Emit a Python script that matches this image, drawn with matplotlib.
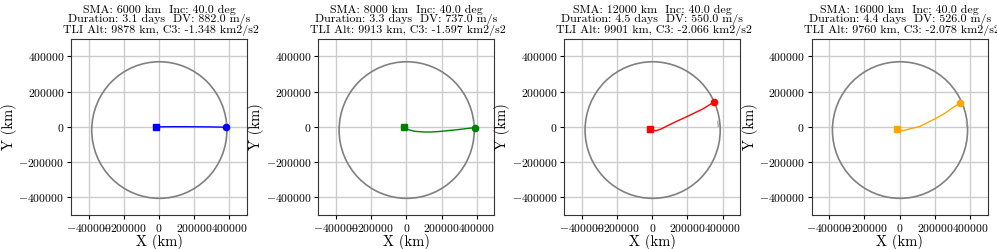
import matplotlib
matplotlib.use('Agg')
import matplotlib.pyplot as plt
from matplotlib.patches import Ellipse

plt.rcParams['font.family'] = 'serif'
plt.rcParams['font.serif'] = ['cmr10']
plt.rcParams['mathtext.fontset'] = 'cm'
plt.rcParams['axes.formatter.use_mathtext'] = True
plt.rcParams['axes.unicode_minus'] = True

# Case parameters (per panel)
sma = [6000, 8000, 12000, 16000]
inc = [40.0, 40.0, 40.0, 40.0]
duration = [3.1, 3.3, 4.5, 4.4]
dv = [882.0, 737.0, 550.0, 526.0]
tli_alt = [9878, 9913, 9901, 9760]
c3 = [-1.348, -1.597, -2.066, -2.078]
colors = ['blue', 'green', 'red', 'orange']

# Transfer trajectories, km
traj_x = [
    [-19000, 20000, 80000, 150000, 220000, 290000, 340000, 383000],
    [-13000, 10000, 46000, 100000, 141000, 190000, 237000, 290000, 331000, 389000],
    [-11000, 0, 20000, 50000, 99000, 150000, 194000, 250000, 289000, 350000],
    [-15000, 0, 21000, 55000, 116000, 165000, 211000, 255000, 287000, 345000],
]
traj_y = [
    [0, 500, 1000, 1000, 500, 0, -1000, -2000],
    [-2000, -15000, -25000, -29000, -29000, -26000, -21000, -16000, -11000, -4000],
    [-10000, -19000, -22000, -12000, 13000, 37000, 57000, 84000, 103000, 141000],
    [-10000, -19000, -21000, -12000, 3000, 28000, 51000, 76000, 99000, 137000],
]

# Moon orbit (ellipse fit) and the short moon-arrival tick
moon_cx, moon_cy = 2000, -18000
moon_w, moon_h = 768000, 776000
tick_x = [[384000, 386000], [384000, 386000], [372000, 375000], [379000, 381000]]
tick_y = [[25000, -5000], [25000, -5000], [32000, 3000], [32000, 3000]]

fig = plt.figure(figsize=(9.97, 2.49), dpi=100)
lefts = [0.0712, 0.3193, 0.566, 0.8141]

for i in range(4):
    ax = fig.add_axes([lefts[i], 0.137, 0.1765, 0.7068])
    ax.set_axisbelow(True)
    ax.grid(True, color='#cccccc', lw=1)
    ax.add_patch(Ellipse((moon_cx, moon_cy), moon_w, moon_h, fill=False,
                         edgecolor='gray', lw=1.2))
    ax.plot(tick_x[i], tick_y[i], color='#aaaaaa', lw=1)
    ax.plot(traj_x[i], traj_y[i], color=colors[i], lw=1)
    ax.plot(traj_x[i][0], traj_y[i][0], 's', color=colors[i], ms=4.5)
    ax.plot(traj_x[i][-1], traj_y[i][-1], 'o', color=colors[i], ms=4.5)
    ax.set_xlim(-500000, 500000)
    ax.set_ylim(-500000, 500000)
    ax.set_xticks([-400000, -200000, 0, 200000, 400000])
    ax.set_yticks([-400000, -200000, 0, 200000, 400000])
    ax.tick_params(labelsize=8.4, length=3, width=0.8, pad=2)
    for s in ax.spines.values():
        s.set_color('#333333')
    ax.set_xlabel('X (km)', fontsize=10.5, labelpad=0)
    ax.set_ylabel('Y (km)', fontsize=10.5, labelpad=1)
    ax.set_title(f'SMA: {sma[i]} km  Inc: {inc[i]} deg\n'
                 f'Duration: {duration[i]} days  DV: {dv[i]} m/s\n'
                 f' TLI Alt: {tli_alt[i]} km, C3: {c3[i]} km2/s2',
                 fontsize=8.6, pad=4, linespacing=0.98)

fig.savefig('out.png', dpi=100)
